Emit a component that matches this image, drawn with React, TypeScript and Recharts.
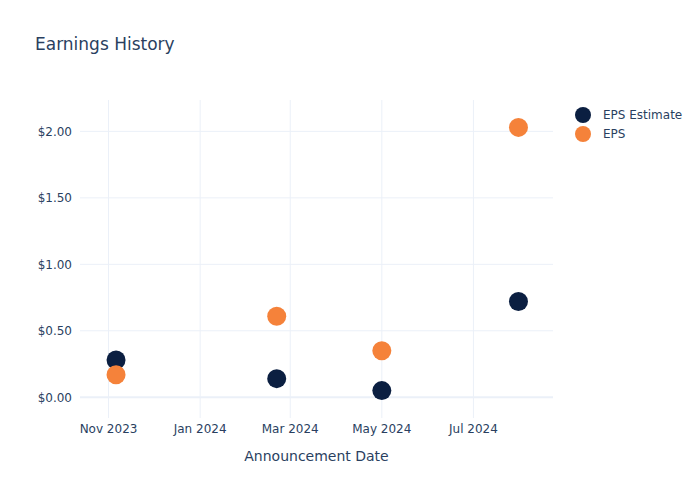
import {
  ScatterChart,
  Scatter,
  XAxis,
  YAxis,
  ReferenceLine,
} from 'recharts';

// Announcement dates (UTC) and EPS values.
const DATES = [
  Date.UTC(2023, 10, 6),
  Date.UTC(2024, 1, 21),
  Date.UTC(2024, 4, 1),
  Date.UTC(2024, 6, 31),
];
const EPS_ESTIMATE = [0.28, 0.14, 0.05, 0.72];
const EPS_ACTUAL = [0.17, 0.61, 0.35, 2.03];

const X_TICKS = [
  Date.UTC(2023, 10, 1),
  Date.UTC(2024, 0, 1),
  Date.UTC(2024, 2, 1),
  Date.UTC(2024, 4, 1),
  Date.UTC(2024, 6, 1),
];
const Y_TICKS = [0, 0.5, 1, 1.5, 2];

const X_DOMAIN = [Date.UTC(2023, 9, 13), Date.UTC(2024, 7, 23)];
const Y_DOMAIN = [-0.156, 2.236];

const MONTHS = ['Jan', 'Feb', 'Mar', 'Apr', 'May', 'Jun', 'Jul', 'Aug', 'Sep', 'Oct', 'Nov', 'Dec'];

const INK = '#2a3f5f';
const GRID = '#ebf0f8';
const NAVY = '#0b1f41';
const ORANGE = '#f5823a';
const FONT = '"DejaVu Sans", sans-serif';

const estimateData = DATES.map((t, i) => ({ t, v: EPS_ESTIMATE[i] }));
const epsData = DATES.map((t, i) => ({ t, v: EPS_ACTUAL[i] }));

const fmtDate = (t: number) => {
  const d = new Date(t);
  return `${MONTHS[d.getUTCMonth()]} ${d.getUTCFullYear()}`;
};
const fmtUsd = (v: number) => `$${v.toFixed(2)}`;

// plotly-ish round marker, ~19px across
const Dot = (props: any) => <circle cx={props.cx} cy={props.cy} r={9.5} fill={props.fill} />;

export default function App() {
  return (
    <div style={{ position: 'absolute', left: 0, top: 0, width: 700, height: 500, background: '#fff', fontFamily: FONT }}>
      <div style={{ position: 'absolute', left: 35, top: 34, fontSize: 17, color: INK }}>Earnings History</div>
      <ScatterChart width={700} height={500} margin={{ top: 100, right: 147, bottom: 0, left: 0 }}>
        <XAxis
          dataKey="t"
          type="number"
          domain={X_DOMAIN}
          ticks={X_TICKS}
          tickFormatter={fmtDate}
          axisLine={false}
          tickLine={false}
          height={82}
          tick={{ fill: INK, fontSize: 12, fontFamily: FONT }}
          tickMargin={0}
          allowDataOverflow
          label={{ value: 'Announcement Date', position: 'insideTop', offset: 33, fill: INK, fontSize: 14, fontFamily: FONT }}
        />
        <YAxis
          dataKey="v"
          type="number"
          domain={Y_DOMAIN}
          ticks={Y_TICKS}
          tickFormatter={fmtUsd}
          axisLine={false}
          tickLine={false}
          width={80}
          tick={{ fill: INK, fontSize: 12, fontFamily: FONT }}
          tickMargin={2}
          allowDataOverflow
        />
        {X_TICKS.map((t) => (
          <ReferenceLine key={`x${t}`} x={t} stroke={GRID} strokeWidth={1} />
        ))}
        {Y_TICKS.map((v) => (
          <ReferenceLine key={`y${v}`} y={v} stroke={GRID} strokeWidth={v === 0 ? 2 : 1} />
        ))}
        <Scatter name="EPS Estimate" data={estimateData} fill={NAVY} shape={Dot} isAnimationActive={false} />
        <Scatter name="EPS" data={epsData} fill={ORANGE} shape={Dot} isAnimationActive={false} />
      </ScatterChart>
      <div style={{ position: 'absolute', left: 575, top: 105, fontSize: 12, color: INK }}>
        {[
          { name: 'EPS Estimate', color: NAVY },
          { name: 'EPS', color: ORANGE },
        ].map((s) => (
          <div key={s.name} style={{ display: 'flex', alignItems: 'center', height: 19 }}>
            <span style={{ display: 'inline-block', width: 16, height: 16, borderRadius: '50%', background: s.color }} />
            <span style={{ marginLeft: 12 }}>{s.name}</span>
          </div>
        ))}
      </div>
    </div>
  );
}
